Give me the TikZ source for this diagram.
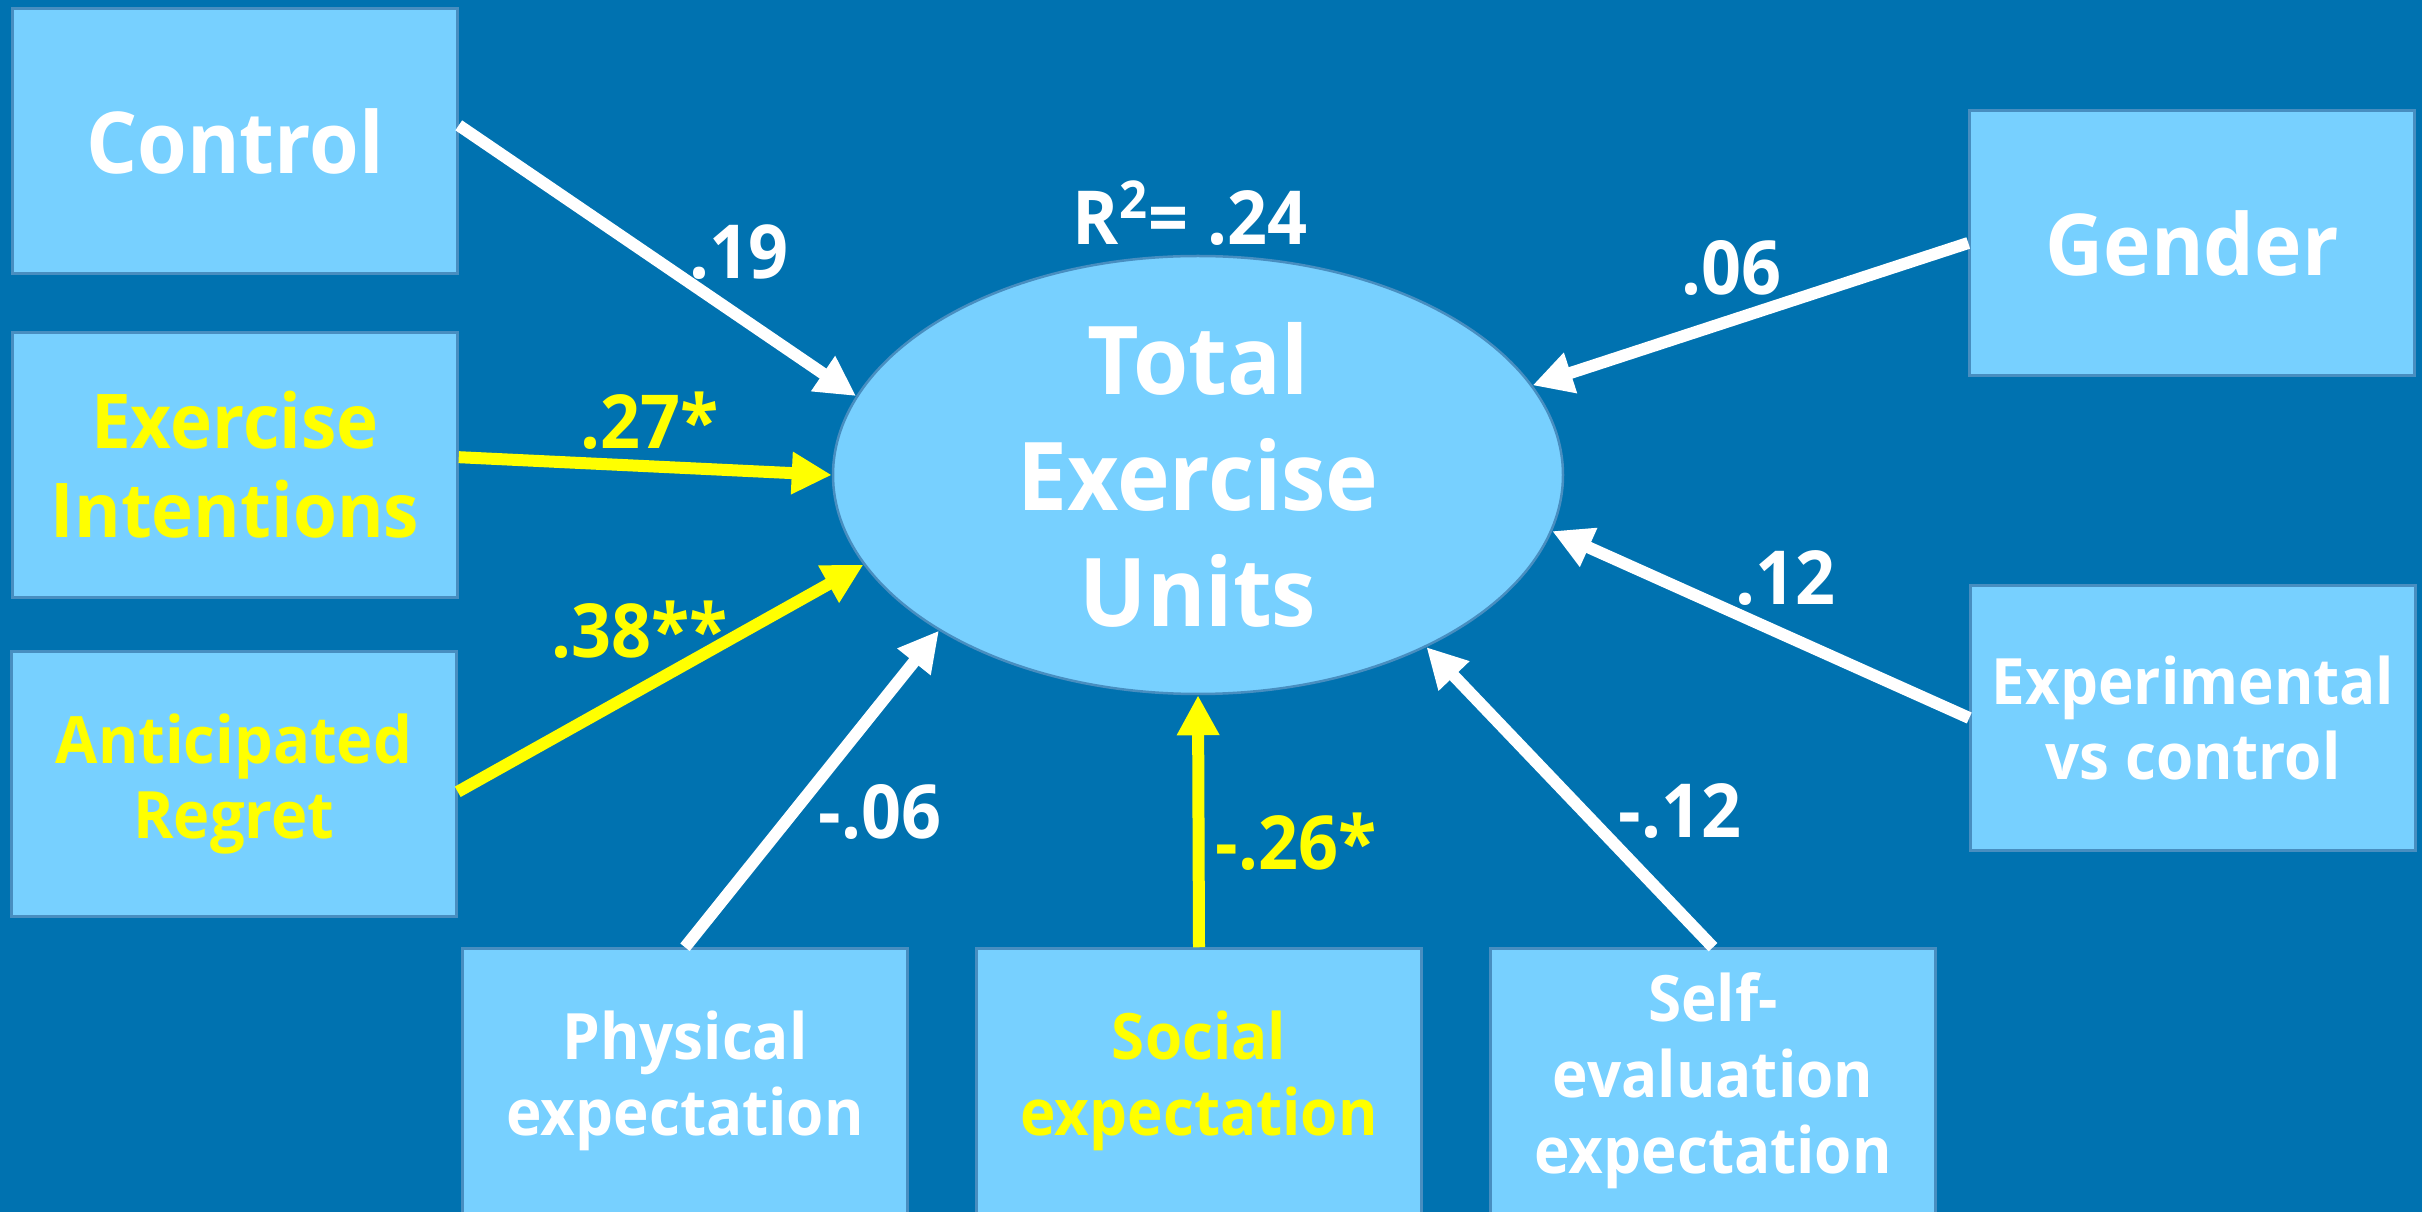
\documentclass[tikz,border=0pt]{standalone}
\usepackage{xcolor}
\usepackage{fontspec}
\setmainfont{Open Sans}[FakeStretch=0.94]
\usetikzlibrary{arrows.meta,shapes.geometric}
\definecolor{bgblue}{RGB}{0,114,176}
\definecolor{boxblue}{RGB}{119,208,255}
\definecolor{boxedge}{RGB}{72,142,192}
\definecolor{sigyellow}{RGB}{255,255,0}
\tikzset{
    box/.style={draw=boxedge,fill=boxblue,line width=0.25mm,minimum width=44.5mm,
        minimum height=26.5mm,inner sep=0pt,align=center,text=white},
    bigtext/.style={font=\bfseries\fontsize{24.3}{29}\selectfont},
    midtext/.style={font=\bfseries\fontsize{21.5}{25.3}\selectfont},
    smalltext/.style={font=\bfseries\fontsize{18.2}{21.6}\selectfont},
    coef/.style={font=\bfseries\fontsize{21.2}{25}\selectfont,text=white,inner sep=0pt},
    effect/.style={line width=1.2mm,white,-{Triangle[length=4mm,width=4mm]}},
    sig/.style={sigyellow,text=sigyellow}
}

\begin{document}
\begin{tikzpicture}[x=0.1mm,y=-0.1mm]

    % Background.
    \fill[bgblue] (0,0) rectangle (2422,1212);
    \useasboundingbox (0,0) rectangle (2422,1212);

    % Draw outcome ellipse.
    \node (total) at (1198,475) [ellipse,draw=boxedge,fill=boxblue,line width=0.25mm,
        minimum width=73mm,minimum height=43.8mm,inner sep=0pt]{};
    \node (ttltext) at (total.center) [align=center,text=white,
        font=\bfseries\fontsize{27}{33}\selectfont]{Total\\Exercise\\Units};
    \node (rsq) at (1190,213) [coef]{R\textsuperscript{2}= .24};

    % Draw predictor boxes.
    \node (ctrl) at (235,141) [box,bigtext]{Control};
    \node (ei) at (235,465) [box,midtext,text=sigyellow]{Exercise\\Intentions};
    \node (ar) at (234,784) [box,font=\bfseries\fontsize{18.6}{21.6}\selectfont,
        text=sigyellow]{Anticipated\\Regret};
    \node (gender) at (2192,243) [box,bigtext]{Gender};
    \node (exp) at (2193,718) [box,smalltext]{Experimental\\vs control};
    \node (phys) at (685,1081) [box,smalltext]{Physical\\expectation};
    \node (soc) at (1199,1081) [box,smalltext,text=sigyellow]{Social\\expectation};
    \node (self) at (1713,1081) [box,smalltext]{Self-\\evaluation\\expectation};

    % Draw paths into the ellipse.
    \draw[effect] (ctrl.4) -- (total.167);
    \draw[effect,sig] (ei.2) -- (total.180);
    \draw[effect,sig] (ar.358) -- (total.195);
    \draw[effect] (phys.north) -- (total.211);
    \draw[effect,sig] (soc.north) -- (total.270);
    \draw[effect] (self.north) -- (total.323);
    \draw[effect] (gender.west) -- (total.15);
    \draw[effect] (exp.west) -- (total.351);

    % Path coefficients.
    \node (cctrl) at (739,252) [coef]{.19};
    \node (cei) at (650,421) [coef,sig]{.27*};
    \node (car) at (640,630) [coef,sig]{.38**};
    \node (cphys) at (880,812) [coef]{-.06};
    \node (csoc) at (1296,842) [coef,sig]{-.26*};
    \node (cself) at (1680,811) [coef]{-.12};
    \node (cgender) at (1731,268) [coef]{.06};
    \node (cexp) at (1785,578) [coef]{.12};

\end{tikzpicture}
\end{document}
